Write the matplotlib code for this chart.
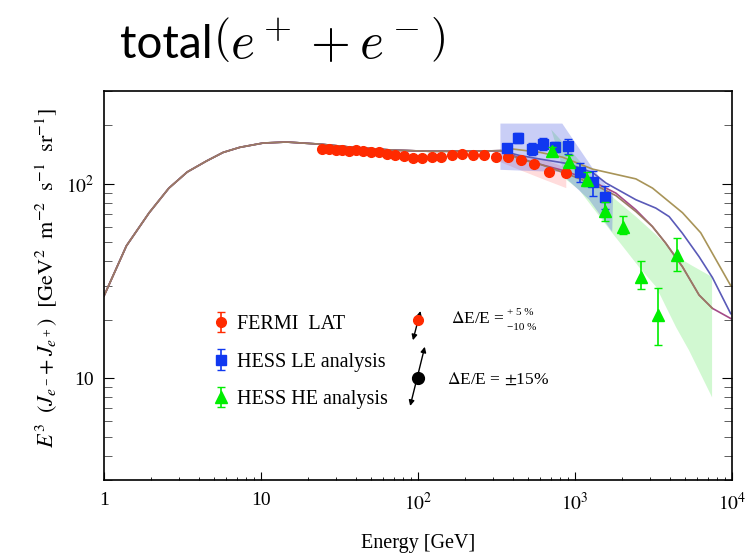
import matplotlib
matplotlib.use('Agg')
import matplotlib.pyplot as plt
import numpy as np

plt.rcParams['font.family'] = ['Liberation Serif', 'DejaVu Serif']
plt.rcParams['mathtext.fontset'] = 'stix'

# common part of the model curves (all four overlap below ~300 GeV)
e_low = [1, 1.39, 1.94, 2.59, 3.39, 4.5, 5.74, 7.33, 10.3, 14.5, 23.6, 38.5, 69, 118, 200, 338]
f_low = [26.5, 48, 71, 95, 115, 131, 145, 154, 162, 164, 160, 154, 149, 147, 147, 148]

# high-energy branches of the models
e_tan = [401, 600, 834, 1294, 2443, 3119, 4840, 6322, 9800]
f_tan = [151, 145, 137, 119, 106, 95, 71, 56, 30]
e_blue = [442, 600, 900, 1300, 1573, 2443, 3273, 3980, 4830, 6170, 7500, 9810]
f_blue = [140, 134, 127, 114, 101, 82.8, 75, 67.8, 55.7, 42.2, 33, 21.5]
e_purple = [442, 538, 877, 1292, 1820, 2443, 3112, 3785, 4830, 6170, 7500, 9810]
f_purple = [136, 129, 116, 103, 89.6, 73.5, 60.3, 49.5, 37.5, 26.8, 22.9, 20.3]
e_brown = [442, 600, 877, 1292, 1820, 2443, 3112, 3785, 4830, 6170, 7500]
f_brown = [134, 126, 113, 100, 87, 72, 60.3, 49.5, 37.5, 26.8, 22.9]

# FERMI LAT
fermi_e = [24.6, 27.1, 29.9, 33.0, 36.3, 40.4, 44.6, 49.9, 56.1, 63.4, 71.6, 81.7, 93.1,
           106.7, 123, 141, 165, 192, 224, 264, 315, 377, 453, 551, 685, 875]
fermi_f = [151, 151, 150, 149, 147.5, 150, 147.5, 145, 145, 142, 140.5, 139, 136,
           136, 138, 138, 140, 141.5, 140.5, 140.5, 138, 138, 132, 126, 115, 113]
fermi_err = [3] * len(fermi_e)

# HESS LE analysis
le_e = [367, 436, 532, 628, 749, 906, 1084, 1294, 1557]
le_f = [152, 173, 151, 160, 155, 156, 115, 101.6, 86]
le_err = [5, 10, 11, 11, 9, 14, 13, 15, 12]

# HESS HE analysis
he_e = [710, 910, 1191, 1550, 2008, 2624, 3402, 4450]
he_f = [148, 130, 105, 72.6, 60.3, 33.3, 21.1, 43]
he_lo = [6, 8, 8, 8, 5, 4.6, 6.3, 7.4]
he_hi = [6, 10, 10, 8, 8, 7, 7.9, 9.8]

# systematic bands (polygon outlines)
le_band_e = [335, 830, 1288, 1750, 1726, 1231, 794, 335]
le_band_f = [204, 204, 121, 87.8, 56.6, 82.8, 115, 118]
he_band_e = [706, 989, 1426, 1726, 2455, 3289, 4607, 5487, 7468, 7468, 5330, 4404, 3289,
             2559, 1726, 1288, 1064, 880]
he_band_f = [190, 141, 101, 85.8, 67.6, 54.6, 41.6, 38.2, 33.2, 7.98, 13.9, 18.3, 29.5,
             37.3, 55.9, 76, 93, 105]
fermi_band_e = [330, 637, 880, 880, 637, 442, 330]
fermi_band_f = [146, 133, 121, 95, 105, 118, 130]

# energy-scale arrows
red_dot = (100, 20)
red_arrow = [(91.9, 15.2), (104.8, 22.9)]
black_dot = (100, 10)
black_arrow = [(88.3, 6.98), (111.6, 15.0)]

fig = plt.figure(figsize=(7.53, 5.58), dpi=100)
ax = fig.add_axes([0.1381, 0.1398, 0.8340, 0.6971])
ax.set_xscale('log')
ax.set_yscale('log')

# bands
ax.fill(fermi_band_e, fermi_band_f, color='#ff5050', alpha=0.2, lw=0, zorder=1)
ax.fill(he_band_e, he_band_f, color='#00dd00', alpha=0.18, lw=0, zorder=1)
ax.fill(le_band_e, le_band_f, color='#4050e0', alpha=0.28, lw=0, zorder=1)

# model curves
ax.plot(e_low + e_tan, f_low + f_tan, color='#a89458', lw=1.2, zorder=2)
ax.plot(e_low + e_blue, f_low + f_blue, color='#5a5ab8', lw=1.2, zorder=2)
ax.plot(e_low + e_purple, f_low + f_purple, color='#a44a88', lw=1.2, zorder=2)
ax.plot(e_low + e_brown, f_low + f_brown, color='#9a7c62', lw=1.2, zorder=2)

# data
h_fermi = ax.errorbar(fermi_e, fermi_f, yerr=fermi_err, fmt='o', color='#ff2a00',
                      ms=7, capsize=3, elinewidth=1.2, zorder=3)
h_le = ax.errorbar(le_e, le_f, yerr=le_err, fmt='s', color='#1038f0',
                   ms=6.5, capsize=3, elinewidth=1.2, zorder=3)
h_he = ax.errorbar(he_e, he_f, yerr=[he_lo, he_hi], fmt='^', color='#00ee00',
                   ms=9, capsize=3, elinewidth=1.2, zorder=4)

# energy-scale uncertainty arrows
ax.plot(*red_dot, 'o', color='#ff2a00', ms=7, zorder=5)
ax.annotate('', xy=red_arrow[1], xytext=red_arrow[0],
            arrowprops=dict(arrowstyle='<|-|>', color='k', lw=1, mutation_scale=8))
ax.plot(*black_dot, 'o', color='k', ms=8.5, zorder=5)
ax.annotate('', xy=black_arrow[1], xytext=black_arrow[0],
            arrowprops=dict(arrowstyle='<|-|>', color='k', lw=1, mutation_scale=8))
ax.text(163, 20.2, r'$\Delta$E/E =', fontsize=12.5, va='center', ha='left')
ax.text(368, 21.9, '+ 5 %', fontsize=8, va='center', ha='left')
ax.text(368, 18.3, '\u221210 %', fontsize=8, va='center', ha='left')
ax.text(152, 9.8, r'$\Delta$E/E = $\pm$15%', fontsize=12.5, va='center', ha='left')

ax.legend([h_fermi, h_le, h_he], ['FERMI  LAT', 'HESS LE analysis', 'HESS HE analysis'],
          loc='upper left', bbox_to_anchor=(0.173, 0.425), frameon=False,
          fontsize=14.5, handlelength=0.8, handletextpad=0.4, labelspacing=0.93,
          borderpad=0, borderaxespad=0)

ax.set_xlim(1, 1e4)
ax.set_ylim(3, 300)
ax.set_xticks([1, 10, 100, 1000, 10000])
ax.set_xticklabels(['1', '10', r'$10^2$', r'$10^3$', r'$10^4$'])
ax.set_yticks([10, 100])
ax.set_yticklabels(['10', r'$10^2$'])
ax.tick_params(which='both', direction='in', right=True, top=False, labelsize=14)
ax.tick_params(axis='x', which='major', length=6, pad=9)
ax.tick_params(axis='x', which='minor', length=2.5)
ax.tick_params(axis='y', which='major', length=7, pad=7)
ax.tick_params(axis='y', which='minor', length=6, color='#444444')
for s in ax.spines.values():
    s.set_linewidth(1.2)

ax.set_xlabel('Energy [GeV]', fontsize=14.5)
ax.xaxis.set_label_coords(0.5, -0.139)
ax.set_ylabel(r'$E^3\ \ (J_{e^-}\!+J_{e^+})\ \ [\mathrm{GeV}^2\ \ \mathrm{m}^{-2}\ \ '
              r'\mathrm{s}^{-1}\ \ \mathrm{sr}^{-1}]$', fontsize=16)
ax.yaxis.set_label_coords(-0.07, 0.519)

fig.text(120 / 753, 1 - 58 / 558, 'total', family='Lato', fontsize=33, va='baseline')
fig.text(213 / 753, 1 - 58 / 558, r'$\left(e^+ + e^-\right)$', math_fontfamily='cm',
         fontsize=37, va='baseline')

fig.savefig('out.png', dpi=100)
